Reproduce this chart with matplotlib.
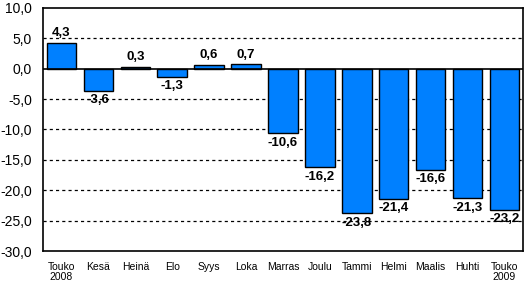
import matplotlib
matplotlib.use("Agg")
import matplotlib.pyplot as plt
from matplotlib.ticker import FuncFormatter
import numpy as np

plt.rcParams["font.family"] = ["Liberation Sans", "DejaVu Sans"]

months = ["Touko\n2008", "Kesä", "Heinä", "Elo", "Syys", "Loka", "Marras",
          "Joulu", "Tammi", "Helmi", "Maalis", "Huhti", "Touko\n2009"]
values = [4.3, -3.6, 0.3, -1.3, 0.6, 0.7, -10.6,
          -16.2, -23.8, -21.4, -16.6, -21.3, -23.2]

BAR = "#0080ff"

fig = plt.figure(figsize=(5.25, 2.83), dpi=100)
ax = fig.add_axes([0.082, 0.113, 0.914, 0.859])

x = np.arange(len(values))
ax.bar(x, values, width=0.8, color=BAR, edgecolor="black", linewidth=1.0, zorder=3)

ax.set_ylim(-30, 10)
ax.set_xlim(-0.5, len(values) - 0.5)
ax.set_yticks(np.arange(-30, 11, 5))
ax.yaxis.set_major_formatter(FuncFormatter(lambda v, p: f"{v:.1f}".replace(".", ",")))
for yv in [5, -5, -10, -15, -20, -25]:
    ax.axhline(yv, color="black", lw=0.9, ls=(0, (2.5, 2.5)), zorder=1)
ax.axhline(0, color="black", lw=1.2, zorder=4)

ax.set_xticks(x)
ax.set_xticklabels(months, fontsize=7.5, linespacing=1.0)
ax.tick_params(axis="x", length=0, pad=8)
ax.tick_params(axis="y", length=0, labelsize=10, pad=8)
for s in ax.spines.values():
    s.set_color("black")
    s.set_linewidth(1.2)

for xi, v in zip(x, values):
    lbl = f"{v:.1f}".replace(".", ",")
    if v >= 0:
        ax.text(xi, v + 0.6, lbl, ha="center", va="bottom", fontsize=9.5, fontweight="bold", zorder=5)
    else:
        ax.text(xi, v - 0.6, lbl, ha="center", va="top", fontsize=9.5, fontweight="bold", zorder=5)

fig.savefig("out.png", dpi=100, facecolor="white")
